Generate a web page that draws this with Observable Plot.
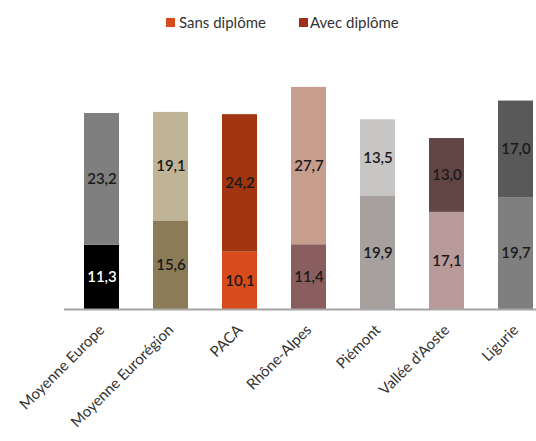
<!DOCTYPE html>
<html>
<head>
<meta charset="utf-8">
<script src="https://cdn.jsdelivr.net/npm/d3@7"></script>
<script src="https://cdn.jsdelivr.net/npm/@observablehq/plot@0.6"></script>
<style>
  html, body { margin: 0; padding: 0; background: #fff; }
  #wrap { width: 536px; height: 441px; overflow: hidden; font-family: Lato, "Open Sans", sans-serif; }
  #legend { position: relative; height: 40px; width: 536px; color: #333; font-size: 15px; }
  .sw { position: absolute; width: 9px; height: 9px; top: 18px; }
  .lt { position: absolute; top: 13px; line-height: 18px; }
</style>
</head>
<body>
<div id="wrap">
  <div id="legend"></div>
  <div id="chart"></div>
</div>
<script>
const categories = ["Moyenne Europe", "Moyenne Eurorégion", "PACA", "Rhône-Alpes", "Piémont", "Vallée d'Aoste", "Ligurie"];
const seriesNames = ["Sans diplôme", "Avec diplôme"];
const sansDiplome = [11.3, 15.6, 10.1, 11.4, 19.9, 17.1, 19.7];
const avecDiplome = [23.2, 19.1, 24.2, 27.7, 13.5, 13.0, 17.0];

const paletteSans = ["#000000", "#8b7b56", "#d84b1a", "#8a5e5e", "#a6a09e", "#b99a9a", "#7f7f7f"];
const paletteAvec = ["#7f7f7f", "#c0b497", "#a0350f", "#c79d8e", "#c8c5c5", "#624545", "#595959"];
const legendColors = ["#d84b1a", "#a0301e"];

const rows = [];
categories.forEach((c, i) => {
  rows.push({cat: c, series: seriesNames[0], value: sansDiplome[i], key: c + "|" + seriesNames[0]});
  rows.push({cat: c, series: seriesNames[1], value: avecDiplome[i], key: c + "|" + seriesNames[1]});
});
const keyDomain = [];
const keyRange = [];
categories.forEach((c, i) => {
  keyDomain.push(c + "|" + seriesNames[0]); keyRange.push(paletteSans[i]);
  keyDomain.push(c + "|" + seriesNames[1]); keyRange.push(paletteAvec[i]);
});

// legend
const legend = document.getElementById("legend");
const legPos = [[166, 179], [299, 310]];
seriesNames.forEach((s, i) => {
  const sw = document.createElement("div");
  sw.className = "sw"; sw.style.left = legPos[i][0] + "px"; sw.style.background = legendColors[i];
  const t = document.createElement("div");
  t.className = "lt"; t.style.left = legPos[i][1] + "px"; t.textContent = s;
  legend.appendChild(sw); legend.appendChild(t);
});

const fmt = v => d3.format(".1f")(v).replace(".", ",");
const base = 269;

const chart = Plot.plot({
  width: 536,
  height: 401,
  marginLeft: 64,
  marginRight: 0,
  marginTop: 0,
  marginBottom: 132,
  style: {fontFamily: "Lato, 'Open Sans', sans-serif", fontSize: "15px", color: "#333", background: "#fff"},
  x: {domain: categories, range: [66, 551], paddingInner: 0.495, paddingOuter: 0.2475, align: 0.5, label: null, tickSize: 0, tickPadding: 18, tickRotate: -45},
  y: {domain: [0, 40], range: [base, base - 227.2], axis: null},
  color: {type: "ordinal", domain: keyDomain, range: keyRange},
  marks: [
    Plot.barY(rows, Plot.stackY({x: "cat", y: "value", z: "series", order: seriesNames, fill: "key"})),
    Plot.ruleY([0], {stroke: "#a6a6a6", strokeWidth: 2}),
    Plot.text(rows, Plot.stackY({
      x: "cat", y: "value", z: "series", order: seriesNames,
      text: d => fmt(d.value),
      fill: d => (d.cat === "Moyenne Europe" && d.series === "Sans diplôme") ? "#ffffff" : "#1a1a1a",
      fontSize: 15, fontWeight: 600
    }))
  ]
});
document.getElementById("chart").appendChild(chart);
</script>
</body>
</html>
